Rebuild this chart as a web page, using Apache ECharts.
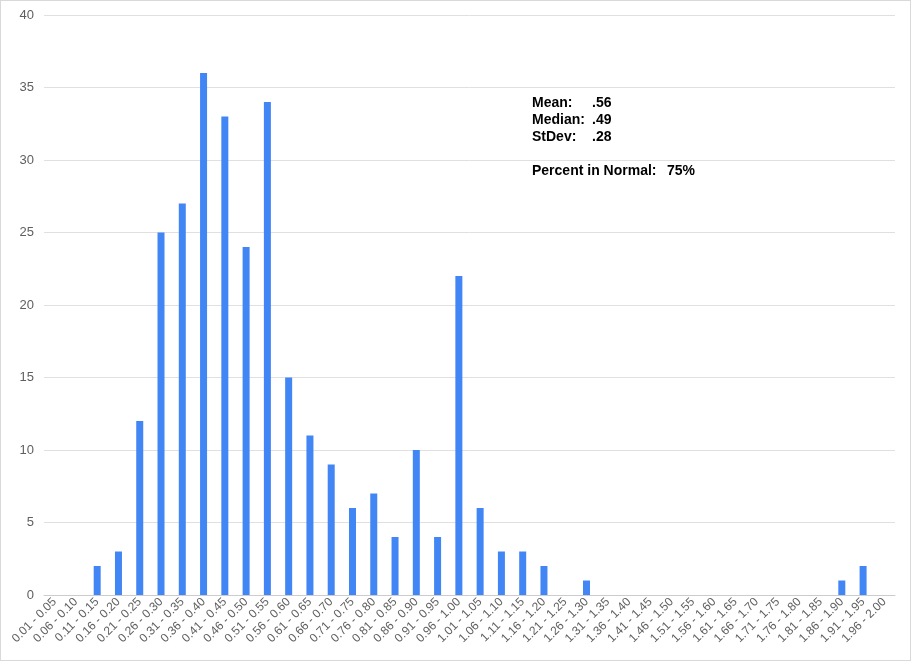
<!DOCTYPE html>
<html>
<head>
<meta charset="utf-8">
<script src="https://cdn.jsdelivr.net/npm/echarts@6/dist/echarts.min.js"></script>
<style>
html,body{margin:0;padding:0;background:#fff;}
#chart{width:911px;height:661px;box-sizing:border-box;border:1px solid #d9d9d9;}
</style>
</head>
<body>
<div id="chart"></div>
<script>
var categories = ["0.01 - 0.05","0.06 - 0.10","0.11 - 0.15","0.16 - 0.20","0.21 - 0.25","0.26 - 0.30","0.31 - 0.35","0.36 - 0.40","0.41 - 0.45","0.46 - 0.50","0.51 - 0.55","0.56 - 0.60","0.61 - 0.65","0.66 - 0.70","0.71 - 0.75","0.76 - 0.80","0.81 - 0.85","0.86 - 0.90","0.91 - 0.95","0.96 - 1.00","1.01 - 1.05","1.06 - 1.10","1.11 - 1.15","1.16 - 1.20","1.21 - 1.25","1.26 - 1.30","1.31 - 1.35","1.36 - 1.40","1.41 - 1.45","1.46 - 1.50","1.51 - 1.55","1.56 - 1.60","1.61 - 1.65","1.66 - 1.70","1.71 - 1.75","1.76 - 1.80","1.81 - 1.85","1.86 - 1.90","1.91 - 1.95","1.96 - 2.00"];
var counts = [0,0,2,3,12,25,27,36,33,24,34,15,11,9,6,7,4,10,4,22,6,3,3,2,0,1,0,0,0,0,0,0,0,0,0,0,0,1,2,0];
var statLabels = ["Mean:","Median:","StDev:"];
var statValues = [".56",".49",".28"];
var normalLabel = "Percent in Normal:";
var normalValue = "75%";

var chart = echarts.init(document.getElementById('chart'));
var textFont = 'bold 14px Arial, "Liberation Sans", sans-serif';
var graphics = [];
statLabels.forEach(function(t, i){
  graphics.push({type:'text', left:531, top:95 + i*17, style:{text:t, font:textFont, fill:'#000'}});
  graphics.push({type:'text', left:591, top:95 + i*17, style:{text:statValues[i], font:textFont, fill:'#000'}});
});
graphics.push({type:'text', left:531, top:163, style:{text:normalLabel, font:textFont, fill:'#000'}});
graphics.push({type:'text', left:666, top:163, style:{text:normalValue, font:textFont, fill:'#000'}});

chart.setOption({
  animation:false,
  grid:{left:43, right:15, top:14, bottom:65},
  xAxis:{
    type:'category', data:categories,
    axisTick:{show:false},
    axisLine:{lineStyle:{color:'#cccccc'}},
    axisLabel:{rotate:45, interval:0, color:'#5f5f5f', fontSize:12, fontFamily:'Arial, "Liberation Sans", sans-serif', margin:5}
  },
  yAxis:{
    type:'value', min:0, max:40, interval:5,
    axisLine:{show:false}, axisTick:{show:false},
    splitLine:{lineStyle:{color:'#e0e0e0'}},
    axisLabel:{color:'#5f5f5f', fontSize:13, fontFamily:'Arial, "Liberation Sans", sans-serif', margin:10}
  },
  series:[{type:'bar', data:counts, barWidth:7, itemStyle:{color:'#4285f4'}}],
  graphic: graphics
});
</script>
</body>
</html>
